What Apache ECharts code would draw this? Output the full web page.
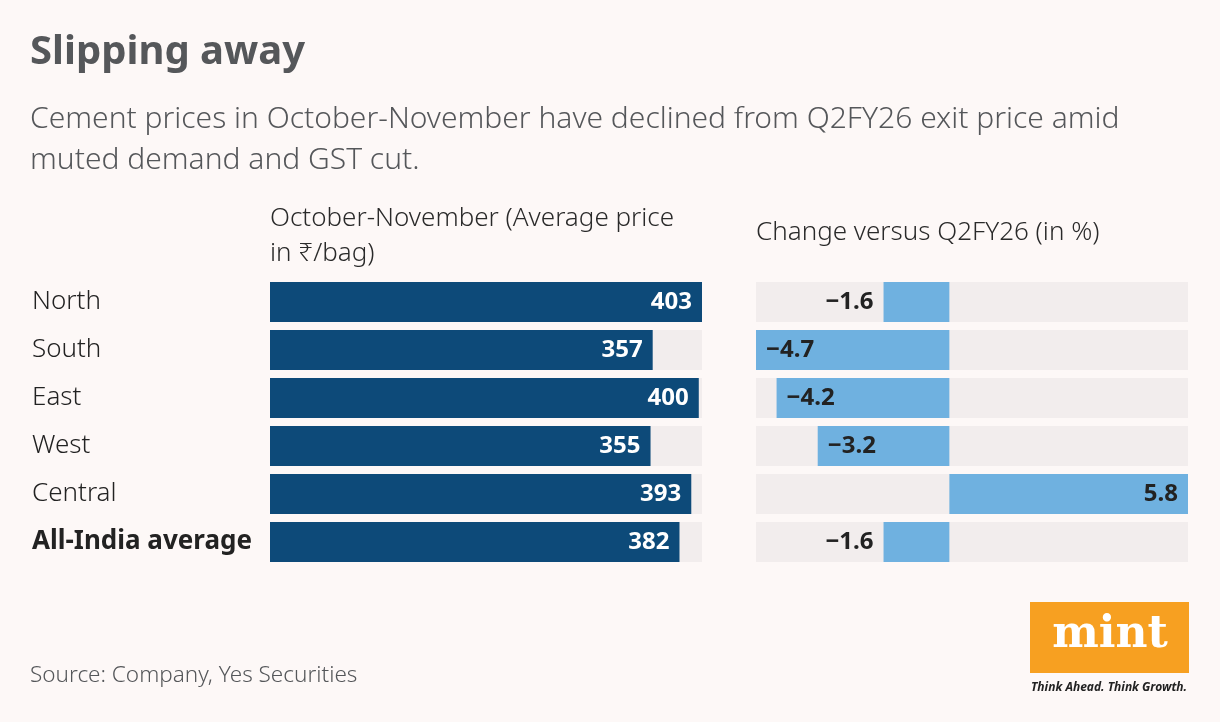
<!DOCTYPE html>
<html>
<head>
<meta charset="utf-8">
<script src="https://cdn.jsdelivr.net/npm/echarts@6/dist/echarts.min.js"></script>
<style>
  html, body { margin: 0; padding: 0; background: #fdf8f7; }
  #chart { width: 1220px; height: 722px; }
</style>
</head>
<body>
<div id="chart"></div>
<script>
// data
var regions = ['North', 'South', 'East', 'West', 'Central', 'All-India average'];
var avgPrice = [403, 357, 400, 355, 393, 382];
var changePct = [-1.6, -4.7, -4.2, -3.2, 5.8, -1.6];

var FONT = '"Noto Sans", "Open Sans", sans-serif';
var trackColor = '#f2eded';

// label position per value: short negative bars get the label outside
function changeLabel(v) {
  if (v > 0) return { position: 'insideRight' };
  if (v > -2) return { position: 'left', distance: 10 };
  return { position: 'insideLeft', distance: 10 };
}

var chart = echarts.init(document.getElementById('chart'));
chart.setOption({
  backgroundColor: '#fdf8f7',
  animation: false,
  grid: [
    { left: 270, width: 432, top: 278, height: 288 },
    { left: 756, width: 432, top: 278, height: 288 }
  ],
  xAxis: [
    { gridIndex: 0, type: 'value', min: 0, max: 403, show: false },
    { gridIndex: 1, type: 'value', min: -4.7, max: 5.8, show: false }
  ],
  yAxis: [
    {
      gridIndex: 0, type: 'category', data: regions, inverse: true,
      axisLine: { show: false }, axisTick: { show: false },
      axisLabel: {
        align: 'left', margin: 238,
        fontFamily: FONT, fontSize: 26, fontWeight: 300, color: '#222',
        formatter: function (v) {
          return v === 'All-India average' ? '{b|' + v + '}' : v;
        },
        rich: { b: { fontFamily: FONT, fontSize: 26, fontWeight: 'bold', color: '#222' } }
      }
    },
    {
      gridIndex: 1, type: 'category', data: regions, inverse: true, show: false
    }
  ],
  series: [
    {
      type: 'bar', xAxisIndex: 0, yAxisIndex: 0,
      data: avgPrice, barWidth: 40,
      itemStyle: { color: '#0d4a79' },
      showBackground: true,
      backgroundStyle: { color: trackColor },
      label: {
        show: true, position: 'insideRight', distance: 10,
        fontFamily: FONT, fontSize: 24, fontWeight: 'bold', color: '#fff'
      }
    },
    {
      type: 'bar', xAxisIndex: 1, yAxisIndex: 1,
      data: changePct.map(function (v) {
        return { value: v, label: changeLabel(v) };
      }),
      barWidth: 40,
      itemStyle: { color: '#6fb1e0' },
      showBackground: true,
      backgroundStyle: { color: trackColor },
      label: {
        show: true, distance: 10,
        fontFamily: FONT, fontSize: 24, fontWeight: 'bold', color: '#222',
        formatter: function (p) {
          var v = p.value;
          return v < 0 ? '\u2212' + Math.abs(v).toFixed(1) : v.toFixed(1);
        }
      }
    }
  ],
  graphic: [
    { type: 'text', left: 30, top: 33, style: { text: 'Slipping away', fontFamily: FONT, fontSize: 40, fontWeight: 'bold', fill: '#55575a' } },
    { type: 'text', left: 30, top: 99, style: { text: 'Cement prices in October-November have declined from Q2FY26 exit price amid\nmuted demand and GST cut.', fontFamily: FONT, fontSize: 30, fontWeight: 300, lineHeight: 41, fill: '#55575a' } },
    { type: 'text', left: 270, top: 201, style: { text: 'October-November (Average price\nin \u20b9/bag)', fontFamily: FONT, fontSize: 26, fontWeight: 300, lineHeight: 35, fill: '#2a2a2a' } },
    { type: 'text', left: 756, top: 220, style: { text: 'Change versus Q2FY26 (in %)', fontFamily: FONT, fontSize: 26, fontWeight: 300, fill: '#2a2a2a' } },
    { type: 'text', left: 30, top: 664, style: { text: 'Source: Company, Yes Securities', fontFamily: FONT, fontSize: 22.5, fontWeight: 300, fill: '#55575a' } },
    { type: 'rect', shape: { x: 1030, y: 602, width: 159, height: 71 }, style: { fill: '#f7a021' } },
    { type: 'text', x: 1110, y: 636, style: { text: 'mint', fontFamily: '"DejaVu Serif", serif', fontSize: 44, fontWeight: 'bold', fill: '#fff', align: 'center', verticalAlign: 'middle' } },
    { type: 'text', x: 1109, y: 688, style: { text: 'Think Ahead. Think Growth.', fontFamily: FONT, fontSize: 12, fontStyle: 'italic', fontWeight: 'bold', fill: '#222', align: 'center', verticalAlign: 'middle' } }
  ]
});
</script>
</body>
</html>
